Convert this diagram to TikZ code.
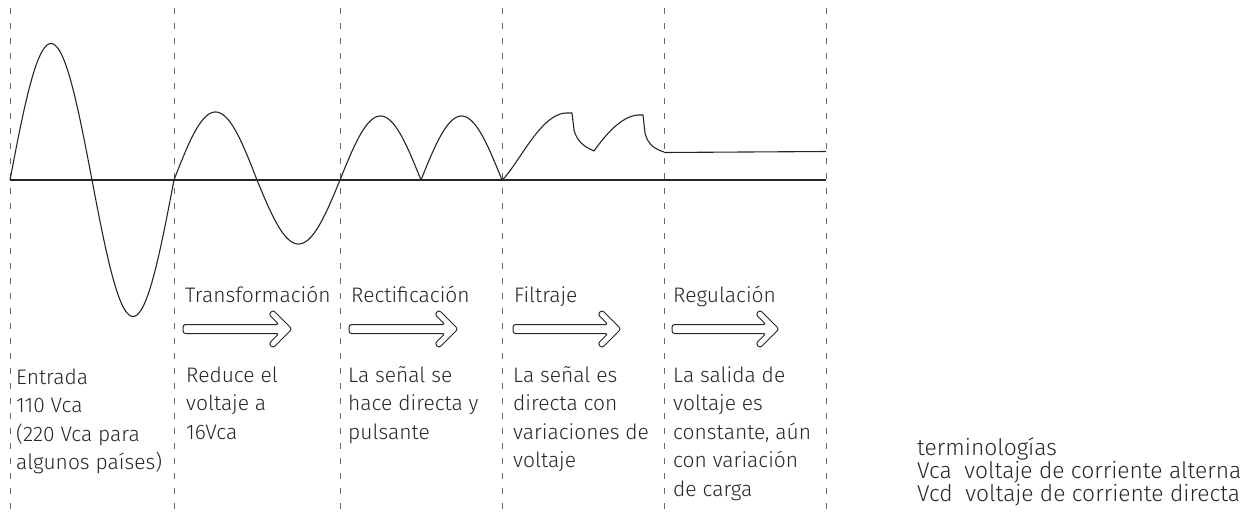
\documentclass[tikz,border=0pt]{standalone}
\usepackage{fontspec}
\setmainfont{Fira Sans Light}
\tikzset{
  guide/.style={draw=black!60, line width=0.9pt, dash pattern=on 6pt off 9pt},
  wave/.style={draw=black!85, line width=1.1pt, line join=round},
  axisline/.style={draw=black!85, line width=1.2pt},
  lbl/.style={anchor=base west, inner sep=0pt, text=black!85, font=\fontsize{21}{25}\selectfont},
  keylbl/.style={anchor=base west, inner sep=0pt, text=black!85, font=\fontsize{22.8}{25}\selectfont},
  bigarrow/.style={draw=black!85, line width=1pt, rounded corners=2.6pt},
}
\newcommand{\hollowarrow}[4]{%
  % #1 name, #2 left x, #3 tip x, #4 centre y
  \path[bigarrow] (#3,#4) -- (#3-19,#4-19) -- (#3-23.24,#4-14.76) -- (#3-12.98,#4-4.5)
    -- (#2,#4-4.5) -- (#2,#4+4.5) -- (#3-12.98,#4+4.5) -- (#3-23.24,#4+14.76)
    -- (#3-19,#4+19) -- cycle;
  \coordinate (#1) at (#2,#4);
}
\begin{document}
\begin{tikzpicture}[x=1pt,y=-1pt]
\useasboundingbox (0,0) rectangle (1256,512);
% guides
\foreach \gx/\gn in {10/g0,174/g1,340/g2,502/g3,664/g4,826/g5}{
  \coordinate (\gn t) at (\gx,8);
  \coordinate (\gn b) at (\gx,512);
  \draw[guide] (\gn t) -- (\gn b);
}
% axis
\coordinate (ax0) at (10,180);
\coordinate (ax1) at (826,180);
\draw[axisline] (ax0) -- (ax1);
% segment 1: input
\draw[wave] plot[domain=0:164, samples=120, smooth] ({10+\x},{180-136.5*sin(\x/164*360)});
% segment 2: transformation
\draw[wave] plot[domain=0:83, samples=60, smooth] ({174+\x},{180-68*sin(\x/166*360)});
\draw[wave] plot[domain=83:166, samples=60, smooth] ({174+\x},{180-64*sin(\x/166*360)});
% segment 3: rectification
\draw[wave] plot[domain=0:81, samples=60, smooth] ({340+\x},{180-64*sin(\x/81*180)});
\draw[wave] plot[domain=0:81, samples=60, smooth] ({421+\x},{180-64*sin(\x/81*180)});
% segment 4: filtering
\draw[wave] plot[domain=0:1, samples=50, smooth] ({502+65*\x},{180-67*(sin(90*\x))^1.2})
  -- (572,113) -- (574,130) .. controls (577,142) and (585,147) .. (594,151)
  .. controls (606,134) and (622,116) .. (638,115) -- (643,115)
  -- (645,133) .. controls (648,145) and (655,149) .. (664,152);
% segment 5: regulation
\coordinate (r0) at (664,152.5);
\coordinate (r1) at (826,151.5);
\draw[wave] (r0) -- (r1);
% titles
\node[lbl] (t1) at (185,302) {Transformación};
\node[lbl] (t2) at (351,302) {Rectificación};
\node[lbl] (t3) at (514,302) {Filtraje};
\node[lbl] (t4) at (673,302) {Regulación};
% arrows
\hollowarrow{a1}{183}{292}{329}
\hollowarrow{a2}{349}{458}{329}
\hollowarrow{a3}{513}{621}{329}
\hollowarrow{a4}{672}{779}{329}
% descriptions
\node[lbl] (e1) at (16,384) {Entrada};
\node[lbl] (e2) at (16,412.5) {110 Vca};
\node[lbl] (e3) at (16,441) {(220 Vca para};
\node[lbl] (e4) at (16,469.5) {algunos países)};
\node[lbl] (d1) at (186,382) {Reduce el};
\node[lbl] (d2) at (186,410.5) {voltaje a};
\node[lbl] (d3) at (186,439) {16Vca};
\node[lbl] (c1) at (348,382) {La señal se};
\node[lbl] (c2) at (348,410.5) {hace directa y};
\node[lbl] (c3) at (348,439) {pulsante};
\node[lbl] (f1) at (513,382) {La señal es};
\node[lbl] (f2) at (513,410.5) {directa con};
\node[lbl] (f3) at (513,439) {variaciones de};
\node[lbl] (f4) at (513,467.5) {voltaje};
\node[lbl] (s1) at (673,382) {La salida de};
\node[lbl] (s2) at (673,410.5) {voltaje es};
\node[lbl] (s3) at (673,439) {constante, aún};
\node[lbl] (s4) at (673,467.5) {con variación};
\node[lbl] (s5) at (673,496) {de carga};
% terminology
\node[keylbl] (k1) at (917,455) {terminologías};
\node[keylbl] (k2) at (917,478) {Vca\ \ voltaje de corriente alterna};
\node[keylbl] (k3) at (917,501) {Vcd\ \ voltaje de corriente directa};
\end{tikzpicture}
\end{document}
